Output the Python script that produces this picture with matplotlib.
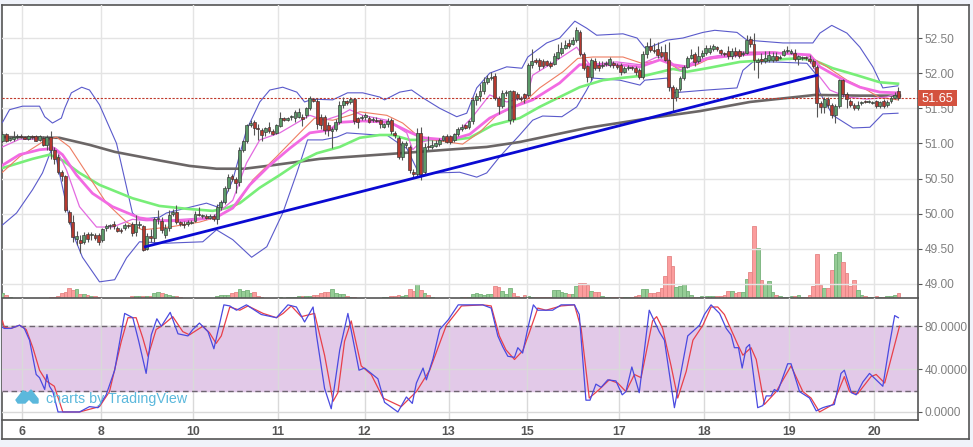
import matplotlib
matplotlib.use('Agg')
import matplotlib.pyplot as plt
from matplotlib.patches import Rectangle, Polygon

plt.rcParams['font.family'] = ['Liberation Sans', 'DejaVu Sans']

W, H = 973, 447

# hourly candles
opens = [51.03,51.13,51.05,51.07,51.09,51.10,51.09,51.07,51.10,51.11,
         51.05,51.08,50.98,51.09,50.90,50.80,50.60,50.53,50.03,49.88,
         49.64,49.63,49.60,49.71,49.69,49.70,49.69,49.63,49.80,49.82,
         49.85,49.80,49.77,49.80,49.84,49.85,49.74,49.84,49.82,49.50,
         49.68,49.66,49.92,49.90,49.70,49.80,50.00,50.02,49.88,49.86,
         49.85,49.87,49.90,50.00,49.97,49.97,49.94,49.97,49.92,50.10,
         50.17,50.36,50.53,50.50,50.45,50.90,51.03,51.26,51.31,51.22,
         51.19,51.16,51.24,51.17,51.15,51.25,51.36,51.34,51.37,51.36,
         51.38,51.38,51.40,51.50,51.63,51.60,51.38,51.37,51.26,51.17,
         51.21,51.31,51.55,51.60,51.59,51.63,51.36,51.36,51.37,51.36,
         51.33,51.34,51.33,51.24,51.27,51.33,51.15,51.08,50.81,50.98,
         50.95,50.60,50.57,51.15,50.60,50.96,50.95,50.97,50.99,51.05,
         51.10,51.10,51.05,51.13,51.20,51.26,51.23,51.32,51.62,51.67,
         51.74,51.88,51.93,51.96,51.65,51.53,51.72,51.34,51.74,51.70,
         51.65,51.70,51.69,52.12,52.19,52.19,52.17,52.17,52.14,52.13,
         52.22,52.29,52.36,52.43,52.42,52.47,52.59,52.27,52.10,51.94,
         52.18,52.12,52.10,52.13,52.12,52.15,52.12,52.11,52.02,52.07,
         52.08,52.08,52.05,51.95,52.27,52.39,52.33,52.34,52.30,52.30,
         52.19,51.80,51.66,51.77,51.93,52.09,52.22,52.27,52.17,52.25,
         52.29,52.30,52.35,52.37,52.33,52.28,52.31,52.24,52.31,52.31,
         52.27,52.29,52.48,52.42,52.16,52.20,52.17,52.19,52.19,52.25,
         52.22,52.26,52.31,52.29,52.29,52.20,52.22,52.22,52.20,52.18,
         52.09,51.57,51.52,51.63,51.55,51.41,51.53,51.90,51.71,51.60,
         51.55,51.51,51.58,51.60,51.59,51.58,51.60,51.53,51.60,51.54,
         51.60,51.65,51.74]
closes = [51.14,51.03,51.08,51.09,51.11,51.09,51.07,51.10,51.09,51.04,
          51.10,50.98,51.09,50.90,50.78,50.60,50.53,50.05,49.88,49.67,
          49.68,49.58,49.70,49.64,49.71,49.66,49.60,49.78,49.82,49.84,
          49.82,49.76,49.75,49.84,49.83,49.72,49.86,49.86,49.49,49.68,
          49.65,49.92,49.93,49.77,49.80,49.98,50.02,49.88,49.86,49.84,
          49.88,49.88,50.00,49.98,49.97,49.94,49.97,49.93,50.10,50.17,
          50.36,50.52,50.50,50.44,50.90,51.03,51.26,51.29,51.22,51.21,
          51.12,51.22,51.17,51.14,51.26,51.36,51.34,51.36,51.38,51.45,
          51.45,51.35,51.50,51.64,51.61,51.27,51.26,51.19,51.19,51.21,
          51.31,51.55,51.61,51.58,51.63,51.32,51.30,51.38,51.40,51.31,
          51.35,51.32,51.27,51.27,51.32,51.17,51.12,50.81,51.00,51.00,
          50.62,50.56,51.15,50.57,50.95,50.95,50.98,51.00,51.05,51.10,
          51.02,51.02,51.13,51.21,51.23,51.22,51.32,51.62,51.67,51.74,
          51.88,51.93,51.95,51.65,51.53,51.72,51.73,51.74,51.35,51.65,
          51.63,51.64,52.12,52.17,52.16,52.10,52.10,52.12,52.10,52.24,
          52.30,52.36,52.40,52.39,52.47,52.62,52.27,52.08,51.95,52.19,
          52.08,52.07,52.12,52.15,52.20,52.11,52.09,52.01,52.08,52.08,
          52.07,52.01,51.95,52.27,52.39,52.33,52.31,52.26,52.25,52.19,
          51.80,51.65,51.77,51.93,52.09,52.22,52.26,52.16,52.25,52.29,
          52.36,52.36,52.38,52.34,52.28,52.27,52.25,52.32,52.26,52.25,
          52.29,52.47,52.41,52.19,52.19,52.17,52.22,52.26,52.25,52.19,
          52.23,52.31,52.32,52.31,52.20,52.24,52.23,52.21,52.17,52.10,
          51.57,51.52,51.63,51.55,51.41,51.53,51.90,51.71,51.63,51.55,
          51.50,51.55,51.58,51.59,51.60,51.59,51.53,51.59,51.53,51.59,
          51.64,51.69,51.65]
highs = [51.17,51.15,51.09,51.17,51.13,51.14,51.11,51.12,51.12,51.12,
         51.12,51.11,51.12,51.18,50.95,50.85,50.62,50.55,50.05,49.98,
         49.75,49.70,49.74,49.74,49.74,49.72,49.72,49.80,49.85,49.86,
         49.90,49.83,49.80,49.87,49.86,49.88,49.98,49.90,49.84,49.72,
         49.78,49.95,50.05,49.95,49.85,50.05,50.07,50.12,49.90,49.89,
         49.91,49.91,50.04,50.09,50.00,49.99,50.00,50.00,50.14,50.20,
         50.40,50.56,50.56,50.52,50.95,51.05,51.28,51.33,51.33,51.28,
         51.22,51.24,51.30,51.20,51.28,51.45,51.38,51.38,51.40,51.47,
         51.50,51.42,51.52,51.68,51.65,51.64,51.42,51.40,51.30,51.24,
         51.35,51.60,51.66,51.62,51.66,51.65,51.38,51.41,51.43,51.39,
         51.38,51.37,51.35,51.29,51.36,51.36,51.18,51.10,51.03,51.03,
         50.98,50.63,51.22,51.23,51.00,51.10,51.05,51.05,51.08,51.12,
         51.13,51.12,51.15,51.24,51.27,51.28,51.34,51.66,51.72,51.85,
         51.95,51.98,52.02,52.00,51.68,51.76,51.76,51.76,51.76,51.73,
         51.67,51.72,52.15,52.35,52.22,52.22,52.20,52.19,52.18,52.28,
         52.42,52.45,52.47,52.48,52.52,52.66,52.62,52.30,52.12,52.22,
         52.22,52.17,52.17,52.18,52.23,52.18,52.14,52.14,52.10,52.11,
         52.10,52.10,52.07,52.32,52.45,52.50,52.43,52.45,52.38,52.42,
         52.45,51.83,51.80,51.96,52.12,52.25,52.34,52.30,52.38,52.33,
         52.40,52.40,52.42,52.39,52.35,52.30,52.38,52.36,52.37,52.35,
         52.32,52.55,52.53,52.57,52.22,52.28,52.32,52.32,52.30,52.30,
         52.26,52.35,52.38,52.35,52.34,52.26,52.25,52.24,52.26,52.20,
         52.12,51.60,51.66,51.66,51.58,51.56,51.92,51.92,51.73,51.63,
         51.58,51.60,51.61,51.62,51.62,51.61,51.62,51.61,51.63,51.62,
         51.68,51.73,51.80]
lows = [51.00,51.02,51.03,51.04,51.07,51.08,51.06,51.05,51.06,51.03,
        51.04,50.96,50.90,50.78,50.70,50.57,50.47,50.03,49.85,49.60,
        49.55,49.44,49.57,49.60,49.62,49.63,49.55,49.60,49.75,49.78,
        49.78,49.74,49.72,49.77,49.80,49.68,49.68,49.80,49.47,49.48,
        49.60,49.60,49.86,49.72,49.66,49.76,49.96,49.85,49.82,49.80,
        49.82,49.85,49.88,49.96,49.94,49.92,49.92,49.90,49.85,50.05,
        50.14,50.32,50.47,50.30,50.40,50.88,51.00,51.23,51.12,51.05,
        51.04,51.10,51.15,51.12,51.13,51.23,51.32,51.32,51.34,51.30,
        51.36,51.25,51.36,51.47,51.59,51.20,51.20,51.14,51.10,50.93,
        51.18,51.28,51.50,51.55,51.56,51.27,51.22,51.33,51.34,51.29,
        51.30,51.30,51.22,51.22,51.24,51.14,51.08,50.78,50.76,50.94,
        50.58,50.52,50.52,50.48,50.55,50.90,50.92,50.95,50.96,51.03,
        51.00,50.99,51.02,51.10,51.17,51.20,51.20,51.28,51.55,51.60,
        51.70,51.85,51.90,51.62,51.42,51.50,51.68,51.28,51.30,51.62,
        51.60,51.58,51.66,52.08,52.13,52.05,52.07,52.10,52.07,52.11,
        52.20,52.26,52.34,52.36,52.40,52.44,52.24,52.04,51.88,51.90,
        52.05,52.03,52.07,52.10,52.09,52.08,52.06,51.98,52.00,52.04,
        52.05,51.98,51.92,51.92,52.22,52.30,52.28,52.22,52.22,52.17,
        51.75,51.45,51.60,51.75,51.90,52.07,52.20,52.10,52.14,52.22,
        52.26,52.27,52.32,52.31,52.26,52.25,52.20,52.20,52.23,52.22,
        52.25,52.27,52.37,52.05,51.93,52.13,52.14,52.16,52.16,52.17,
        52.20,52.24,52.28,52.27,52.18,52.12,52.19,52.19,52.15,52.07,
        51.38,51.44,51.44,51.50,51.36,51.29,51.50,51.66,51.50,51.52,
        51.47,51.47,51.55,51.57,51.57,51.56,51.50,51.51,51.50,51.52,
        51.57,51.63,51.62]
volumes = [5,3,1,.5,.5,.5,.5,.5,.5,.5,
           .5,.5,.5,1,1,2,5,6,10,8,
           9,4,4,3,2,2,1,.5,.5,.5,
           .5,.5,.5,.5,.5,2,2,2,2,2,
           2,5,6,5,4,3,2,2,1,.5,
           .5,.5,.5,.5,.5,.5,.5,.5,2,3,
           3,3,5,6,9,7,8,5,6,2,
           1,.5,.5,.5,.5,1,.5,1,1,1,
           2,2,2,2,3,3,5,6,6,9,
           5,4,4,2,1,1,.5,.5,.5,.5,
           .5,.5,.5,1,1,2,2,3,2,3,
           9,7,14,8,5,3,1,.5,.5,.5,
           .5,.5,.5,.5,1,1,1,4,5,4,
           3,4,4,12,11,7,4,10,5,2,
           1,3,2,1,1,1,1,1,1,8,
           8,6,5,4,4,12,15,15,13,7,
           6,6,2,1,1,1,1,1,1,1,
           1,2,3,9,9,5,5,6,10,22,
           42,32,11,12,14,7,3,1,1,2,
           2,2,2,2,2,3,7,7,5,6,
           6,19,26,72,50,18,14,17,6,3,
           2,1,1,2,2,3,1,1,3,12,
           44,13,10,10,28,44,46,36,25,12,
           18,8,3,2,1,1,2,1,1,2,
           2,3,5]

# moving averages
ma200_x = [0,15.4,23.5,30.3,43.2,50.5,57.8,65.4,73,85.7,107.3,120,130.8,139.7,157.8,174.9,188.4,201.9,219.5,231.6,242.4]
ma200_y = [51.09,51.08,50.98,50.88,50.75,50.68,50.64,50.64,50.69,50.78,50.86,50.91,50.95,51.02,51.22,51.36,51.46,51.59,51.69,51.68,51.68]

green_x = [0,8.1,12.7,16.2,20.8,26.2,35.1,42.4,49.7,56.8,60.5,64.1,69.5,74.9,80.3,84.9,91.1,96.5,101.9,105.4,110,121.6,126.2,132.4,
           139.7,145.1,150.5,155.9,162.2,166.8,174,181.1,184.9,190.3,199.2,208.1,214.6,218.9,224.3,230.8,237,241.9]
green_y = [50.65,50.78,50.84,50.76,50.58,50.41,50.22,50.11,50.07,50.04,50.08,50.15,50.37,50.55,50.74,50.86,50.95,51.08,51.12,51.12,51.05,51.05,51.08,51.26,
           51.36,51.52,51.66,51.80,51.90,51.93,51.97,52.06,52.02,52.07,52.16,52.19,52.21,52.19,52.07,51.97,51.87,51.85]

pink_x = [0,4.6,10,14,16.2,20,24.3,29.7,37,42.4,49.7,57.8,62.2,66.8,72.2,77.6,83,88.4,91.1,97.3,104.6,110,113.5,118.1,121.6,126.2,131.6,137,
          143.2,150.5,155.9,162.2,166.8,172.2,177.6,181.1,184.9,190.3,199.2,208.1,218.1,220.8,226.2,231.6,237,241.9]
pink_y = [50.69,50.84,50.91,50.93,50.84,50.55,50.29,50.10,49.94,49.90,49.90,49.95,50.08,50.41,50.69,50.93,51.15,51.19,51.30,51.32,51.30,51.16,51.08,51.06,51.06,51.13,51.36,51.50,
          51.62,51.86,52.12,52.12,52.12,52.09,52.19,52.12,52.09,52.21,52.26,52.29,52.26,52.09,51.93,51.80,51.73,51.72]

fast_x = [0,4.6,10.8,14.6,17.3,20.8,25.4,29.7,35.1,38.9,45.9,56.8,62.2,65.9,69.5,74.9,83,87,91.1,93.8,97.3,103.8,109.2,110.8,112.7,115.4,121.6,127,
          131.6,136.2,141.6,143.2,150.5,155.1,158.6,165.9,172.2,176.8,179.5,183,186.5,191.1,199.2,208.1,217.3,220,223.5,228.1,233.5,238.9,241.9]
fast_y = [50.95,51.06,51.06,50.91,50.62,50.10,49.81,49.81,49.92,49.90,49.91,49.95,50.19,50.72,51.05,51.15,51.40,51.33,51.40,51.48,51.40,51.33,51.15,50.91,51.01,51.05,51.08,51.38,
          51.69,51.59,51.66,51.97,52.21,52.37,52.12,52.16,52.12,52.23,52.21,52.04,52.16,52.23,52.30,52.30,52.26,52.00,51.76,51.66,51.63,51.66,51.72]

orange_x = [0,4.6,10.8,14.6,18.1,22.7,28.1,33.5,37.8,45.1,53.2,57.8,63.2,67.6,74,80.3,84.3,89.2,93.8,96.5,103.8,108.1,111.9,116.2,124.3,128.9,133.5,
            141.6,145.1,151.4,155.4,159.5,167.6,172.7,178.4,182.2,187.6,190.3,199.2,208.1,217.3,222.7,228.1,233.5,237,241.9]
orange_y = [50.59,50.81,51.02,51.09,50.95,50.58,50.15,49.88,49.77,49.81,49.88,49.95,50.12,50.48,50.81,51.15,51.36,51.33,51.40,51.45,51.40,51.29,51.12,51.05,50.99,51.16,51.40,
            51.62,51.79,52.02,52.21,52.23,52.23,52.14,52.19,52.07,52.12,52.19,52.29,52.30,52.26,52.09,51.90,51.76,51.65,51.62]

# bollinger bands
bb_up_x = [0,1.9,5.4,10,11.4,13.5,15.9,16.8,18.6,21.4,23.5,26.2,30.8,33.5,35.1,37,42.4,44.3,49.7,55.1,57.8,59.5,62.2,65.9,69.5,72.2,75.7,79.5,81.6,83.8,89.2,93.2,97.3,
           101.9,103.2,107.3,110.5,113.5,118.1,122.7,125.4,128.1,131.6,136.2,140.3,141.9,147,150.5,154.6,157.8,160.5,167.6,171.4,173.5,174.9,179.5,183.8,189.2,192.4,198.4,
           201.1,210.8,218.9,220.8,224,228.1,231.6,235.1,237.8,241.9]
bb_up_y = [51.30,51.48,51.53,51.53,51.38,51.29,51.36,51.50,51.72,51.80,51.76,51.55,51.00,50.38,50.01,49.92,49.95,50.01,50.08,50.15,50.10,50.15,50.48,51.19,51.59,51.76,51.80,51.73,51.59,51.63,51.62,51.72,51.72,
           51.66,51.62,51.73,51.76,51.65,51.50,51.38,51.43,51.79,52.00,52.09,52.07,52.23,52.43,52.50,52.74,52.64,52.54,52.56,52.50,52.36,52.37,52.47,52.50,52.58,52.61,52.58,
           52.47,52.43,52.43,52.57,52.68,52.57,52.37,52.09,51.79,51.82]
bb_lo_x = [0,3.8,8.1,10.8,13.2,14,18.9,21.6,26.2,30.3,33.5,37,44.3,54.1,57.8,62.2,67.3,71.4,75.7,79.5,82.4,86.5,90.3,93,101.1,103.8,106.5,109.2,112.7,117.3,123.5,128.1,130.8,
           134.3,139.7,143.2,145.9,151.1,155.1,157.8,159.5,166.8,172.2,173.5,179.5,181.1,190.3,198.4,200,202.7,208.1,217.3,219.5,220.8,224.3,229.7,234.3,237.8,241.9]
bb_lo_y = [49.84,50.01,50.34,50.58,50.91,50.91,49.73,49.38,49.03,49.06,49.37,49.60,49.58,49.60,49.77,49.63,49.38,49.53,50.01,50.58,51.05,51.05,51.09,51.15,51.12,51.12,51.02,50.93,50.55,50.58,50.59,50.52,50.58,
           50.81,51.12,51.33,51.39,51.38,51.52,51.76,51.93,51.90,51.83,51.90,51.93,51.72,51.76,51.79,52.04,52.16,52.16,52.14,52.00,51.72,51.40,51.22,51.23,51.42,51.43]

trend_x = [38.6, 220]
trend_y = [49.53, 51.97]
last_price = 51.65

# stochastic
k_x = [0,.5,2.3,4.6,5.9,7.3,9.1,10,11.4,12,12.7,13.6,15,20.8,23.5,25.8,28,30.3,33,35.2,36.8,38.8,40.2,41.7,42.9,45.3,47.4,50.1,51.4,53.2,55.5,57.1,59.8,61.4,63.2,65.9,69.9,74,77.1,79.4,81.6,83.9,84.8,87,88.8,91.1,93.3,96.3,97.8,101.4,103.2,106.8,109.1,110.7,111.8,113.6,114.5,116.3,118.1,120.4,123.1,
       129.7,132,133.8,135.1,136.5,138.3,139.2,140.5,141.9,143.4,144.6,148.6,150.9,154.5,155.8,157.6,158.7,160.3,161.7,163.5,165.7,167.4,168.4,170,172,174.7,177.4,178.8,181.5,185.1,188.3,189.6,191.4,193.7,195.5,196.8,197.7,198.8,199.8,200.9,201.8,204,205.4,206.3,207.6,208.5,209.4,212.1,213,215.3,218,219.8,221.6,222.5,224.7,226.5,227.4,229.3,230.6,232.4,234.2,237.8,239.6,241,242]
k_y = [79,78,78,81,78,67,35,32,21,35,24,19,0,0,5,4,16,39,92,88,66,36,72,87,80,93,73,71,77,83,75,59,100,99,95,100,91,88,100,98,84,98,72,22,3,58,92,39,41,31,9,0,14,8,27,41,30,50,77,86,100,
       100,97,71,61,52,51,60,55,78,100,95,95,100,100,91,11,11,26,23,30,29,16,19,42,18,95,75,67,4,71,81,91,100,92,78,72,60,60,41,60,63,4,6,15,15,21,19,45,45,19,13,1,4,5,7,36,39,18,16,28,36,24,63,90,88]
d_x = [0,.5,2.3,4.6,6.4,8.2,10,11.8,14,16.3,20.8,26.2,28.9,32.1,33.9,36.1,37.9,39.3,41.5,43.3,46,48.7,50.5,54.1,55.9,57.7,59.1,61.4,64.1,66.3,70.4,74,75.8,78,80.7,84.3,87,89.3,90.6,92.4,94.2,96.9,99.6,102.8,107.7,111.8,115.4,119.9,124,
       129.7,132,134.2,136,138.3,140.5,142.3,144.6,146.8,150.9,154.5,156.3,158.5,161.2,163.9,166.2,168.4,170.7,172.5,175.6,176.7,178.3,180.6,182.4,184.7,186.5,189.2,191.4,193.2,195,198.6,200,202.2,203.6,205.8,209,213,216.2,218.4,220.7,224.3,227.4,228.8,231,234.6,236,238.3,242.3]
d_y = [85,79,78,81,77,60,39,29,24,0,0,5,19,66,88,88,69,52,77,81,89,75,72,80,74,64,71,98,95,99,92,88,92,99,89,92,53,10,18,66,85,43,35,13,5,19,39,81,99,
       100,99,71,58,49,57,74,97,95,99,100,78,13,21,30,27,19,35,32,85,89,78,43,13,38,67,81,98,98,91,63,53,60,49,7,19,43,19,13,0,7,33,19,17,33,35,27,80]

# axis labels
day_ticks = [5.4,26.5,51.4,74.3,97.8,120.5,141.6,166.5,189.5,212.4,235.4]
day_labels = ['6','8','10','11','12','13','15','17','18','19','20']
price_ticks = [49,49.5,50,50.5,51,51.5,52,52.5]
stoch_ticks = [0,40,80]

# colours
bg = '#f0f3fa'
frame = '#555555'
grid = '#e4e4e4'
tick_col = '#808080'
up_col, down_col = '#5a9a68', '#b5392f'

xlim = (-0.27, 247.3)


def axes_px(left, top, right, bottom):
    return fig.add_axes([left/W, 1 - bottom/H, (right-left)/W, (bottom-top)/H])


fig = plt.figure(figsize=(W/100, H/100), dpi=100, facecolor=bg)

# white card behind the panels and the axes strip
card = axes_px(1.5, 5, 969, 439)
card.set_xticks([])
card.set_yticks([])
for s in card.spines.values():
    s.set_color(frame)
    s.set_linewidth(1.2)

# volume panel shares the price panel's box
vol = axes_px(1.5, 5, 918, 298)
vol.set_xlim(xlim)
vol.set_ylim(0, 293)
vol.patch.set_visible(False)
vol.axis('off')

ax = axes_px(1.5, 5, 918, 298)
ax.patch.set_visible(False)
ax.set_xlim(xlim)
ax.set_ylim(48.80, 52.97)
ax.set_xticks(day_ticks)
ax.set_xticklabels([])
ax.set_yticks(price_ticks)
ax.set_yticklabels([f'{p:.2f}' for p in price_ticks])
ax.yaxis.tick_right()
ax.tick_params(axis='x', length=0)
ax.tick_params(axis='y', length=3, color=frame, labelsize=8.6, labelcolor=tick_col, pad=2)
ax.grid(True, color=grid, lw=1)
ax.set_axisbelow(True)
for s in ['top', 'left']:
    ax.spines[s].set_visible(False)
for s in ['right', 'bottom']:
    ax.spines[s].set_color(frame)
    ax.spines[s].set_linewidth(1.2)

# volume
bars = range(len(opens))
is_up = [c >= o for o, c in zip(opens, closes)]
vol.bar(bars, volumes, width=1.0,
        color=['#95cc95' if u else '#fb9d9d' for u in is_up],
        edgecolor=['#76b179' if u else '#e58585' for u in is_up], linewidth=0.6)

# indicators
ax.plot(bb_up_x, bb_up_y, color='#5a5acb', lw=0.8, zorder=2)
ax.plot(bb_lo_x, bb_lo_y, color='#5a5acb', lw=0.8, zorder=2)
ax.plot(ma200_x, ma200_y, color='#6b6666', lw=1.9, zorder=2)
ax.plot(green_x, green_y, color='#78ee78', lw=1.9, zorder=2)
ax.plot(orange_x, orange_y, color='#ee7d62', lw=0.8, zorder=2)
ax.plot(fast_x, fast_y, color='#e36ae0', lw=0.9, zorder=2)
ax.plot(pink_x, pink_y, color='#f26ae2', lw=2.0, zorder=2)
ax.axhline(last_price, color='#c0392b', lw=0.8, ls=(0, (2, 1.4)), zorder=2)

# candles
ax.vlines(bars, lows, highs, color='#555555', lw=0.8, zorder=3)
ax.bar(bars, [abs(c-o) if abs(c-o) > 0.015 else 0.015 for o, c in zip(opens, closes)],
       bottom=[min(o, c) for o, c in zip(opens, closes)], width=0.78,
       color=[up_col if u else down_col for u in is_up],
       edgecolor='#333333', linewidth=0.45, zorder=4)

ax.plot(trend_x, trend_y, color='#0a0ad2', lw=2.0, zorder=5)

# last price tag
ytrans = ax.get_yaxis_transform()
ax.add_patch(Rectangle((1.0, last_price - 8/70.3), 39/916.5, 16/70.3, transform=ytrans, clip_on=False,
                       fc='#d4523f', ec='none', zorder=7))
ax.text(1 + 19.5/916.5, last_price, f'{last_price:.2f}', transform=ytrans, ha='center', va='center_baseline',
        color='white', fontsize=9.2, zorder=8)

# stochastic panel
st = axes_px(1.5, 298, 918, 420)
st.patch.set_visible(False)
st.set_xlim(xlim)
st.set_ylim(-7.5, 106.4)
st.axhspan(20, 80, color='#e2c9e8', zorder=0)
st.axhline(80, color='#6e6470', lw=1, ls=(0, (4, 2.5)), zorder=1)
st.axhline(20, color='#6e6470', lw=1, ls=(0, (4, 2.5)), zorder=1)
st.set_xticks(day_ticks)
st.set_xticklabels(day_labels)
st.set_yticks(stoch_ticks)
st.set_yticklabels([f'{v:.4f}' for v in stoch_ticks])
st.yaxis.tick_right()
st.tick_params(axis='y', length=3, color=frame, labelsize=8.6, labelcolor=tick_col, pad=2)
st.tick_params(axis='x', length=0, labelsize=8.8, labelcolor='#555555', pad=4)
for lab in st.get_xticklabels():
    lab.set_fontweight('bold')
st.grid(True, color='#d9d9d9', lw=1)
st.set_axisbelow(True)
st.spines['top'].set_visible(False)
st.spines['left'].set_visible(False)
for s in ['right', 'bottom']:
    st.spines[s].set_color(frame)
    st.spines[s].set_linewidth(1.2)
st.plot(d_x, d_y, color='#e8404a', lw=0.9, zorder=3)
st.plot(k_x, k_y, color='#4a4ae0', lw=0.9, zorder=4)

# watermark
wm = '#5bb8dc'
fig.text(46/W, 1 - 403/H, 'charts by TradingView', color=wm, fontsize=10.3, zorder=9)
logo = [(16, 400), (23, 391), (28, 393), (31, 390), (38, 399), (38, 403), (33, 403), (29, 399), (25, 403), (18, 403)]
fig.add_artist(Polygon([(x/W, 1 - y/H) for x, y in logo], closed=True, color=wm,
                       transform=fig.transFigure, zorder=9))

fig.savefig('out.png', dpi=100, facecolor=bg)
